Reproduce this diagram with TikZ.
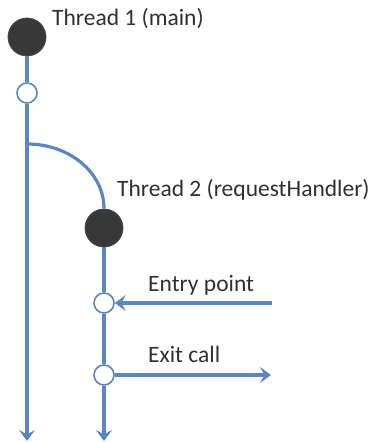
\documentclass[tikz,border=0pt]{standalone}
\usepackage{fontspec}
\setmainfont{Carlito}
\usetikzlibrary{arrows.meta}
\definecolor{lineblue}{HTML}{5B86C0}
\definecolor{darkdot}{HTML}{383838}
\definecolor{txt}{HTML}{303030}
\begin{document}
\begin{tikzpicture}[x=1pt,y=-1pt,
  thr/.style={draw=lineblue, line width=3.2pt},
  big/.style={circle, fill=darkdot, draw=darkdot!80!lineblue, line width=0.8pt, minimum size=38pt, inner sep=0pt},
  small/.style={circle, fill=white, draw=lineblue, line width=1.6pt, minimum size=20pt, inner sep=0pt},
  lbl/.style={font=\fontsize{23.5}{26}\selectfont, text=txt, inner sep=0pt, anchor=west},
  tip/.style={-{Stealth[length=11pt,width=16pt,inset=4.5pt]}}
]
\useasboundingbox (0,0) rectangle (379,442);
% nodes
\node[big] (t1) at (27,37) {};
\node[small] (s1) at (27,93) {};
\coordinate (fork) at (27,144);
\coordinate (e1) at (27,441);
\node[big] (t2) at (104,228) {};
\node[small] (en) at (104,303) {};
\node[small] (ex) at (104,375) {};
\coordinate (e2) at (104,441);
\coordinate (ein) at (272,303);
\coordinate (eout) at (271,375);
% labels
\node[lbl] (l1) at (52,19) {Thread 1 (main)};
\node[lbl] (l2) at (117,190) {Thread 2 (requestHandler)};
\node[lbl] (l3) at (148,285) {Entry point};
\node[lbl] (l4) at (148,354) {Exit call};
% connectors
\draw[thr] (t1) -- (s1);
\draw[thr,tip] (s1) -- (e1);
\draw[thr] (fork) .. controls (70,144) and (104,173) .. (t2.north);
\draw[thr] (t2) -- (en);
\draw[thr] (en) -- (ex);
\draw[thr,tip] (ex) -- (e2);
\draw[thr,tip] (ein) -- (en);
\draw[thr,tip] (ex) -- (eout);
\end{tikzpicture}
\end{document}
